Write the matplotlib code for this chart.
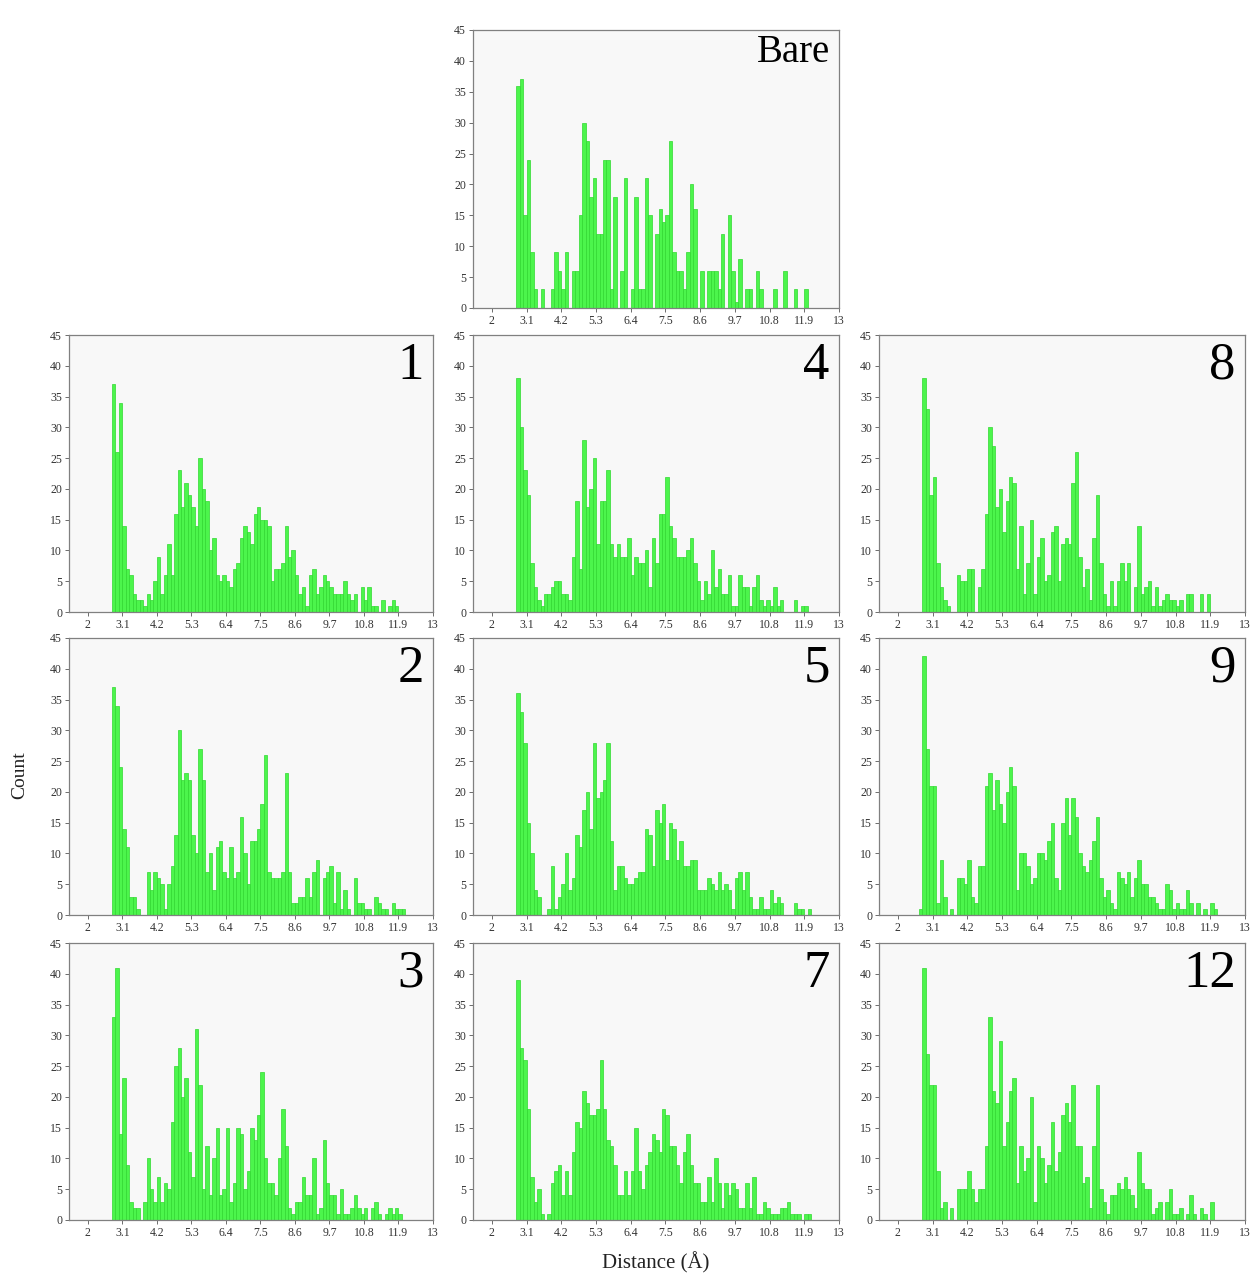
import numpy as np
import matplotlib
matplotlib.use("Agg")
import matplotlib.pyplot as plt

# ---- data: counts per 0.11 Å bin, first bin starts at 2.66 Å ----
bin_start = 2.66
bin_width = 0.11

counts_bare = [0, 36, 37, 15,
               24, 9, 3, 0, 3, 0, 0, 3, 9, 6,
               3, 9, 0, 6, 6, 15, 30, 27, 18, 21,
               12, 12, 24, 24, 3, 18, 0, 6, 21, 0,
               3, 18, 3, 3, 21, 15, 0, 12, 16, 14,
               15, 27, 9, 6, 6, 3, 9, 20, 16, 0,
               6, 0, 6, 6, 6, 3, 12, 0, 15, 6,
               1, 8, 0, 3, 3, 0, 6, 3, 0, 0,
               0, 3, 0, 0, 6, 0, 0, 3, 0, 0,
               3]
counts_1 = [0, 37, 26, 34,
            14, 7, 6, 3, 2, 2, 1, 3, 2, 5,
            9, 3, 6, 11, 6, 16, 23, 17, 21, 19,
            17, 14, 25, 20, 18, 10, 12, 6, 5, 6,
            5, 4, 7, 8, 12, 14, 13, 11, 16, 17,
            15, 15, 14, 5, 7, 7, 8, 14, 9, 10,
            6, 3, 4, 1, 6, 7, 3, 4, 6, 5,
            4, 3, 3, 3, 5, 3, 2, 3, 0, 4,
            2, 4, 1, 1, 0, 2, 0, 1, 2, 1]
counts_4 = [0, 38, 30, 23,
            19, 8, 4, 2, 1, 3, 3, 4, 5, 5,
            3, 3, 2, 9, 18, 7, 28, 17, 20, 25,
            11, 18, 18, 23, 11, 9, 11, 9, 9, 12,
            6, 9, 8, 8, 10, 4, 12, 8, 16, 16,
            22, 14, 12, 9, 9, 9, 10, 12, 8, 5,
            2, 5, 3, 10, 4, 7, 3, 3, 6, 1,
            1, 6, 4, 4, 1, 4, 6, 2, 1, 2,
            1, 4, 1, 2, 0, 0, 0, 2, 0, 1,
            1]
counts_8 = [0, 38, 33, 19,
            22, 8, 4, 2, 1, 0, 0, 6, 5, 5,
            7, 7, 0, 4, 7, 16, 30, 27, 17, 20,
            13, 18, 22, 21, 7, 14, 3, 8, 15, 3,
            9, 12, 5, 6, 13, 14, 5, 11, 12, 11,
            21, 26, 9, 4, 7, 2, 12, 19, 8, 3,
            1, 5, 1, 5, 8, 5, 8, 0, 4, 14,
            3, 4, 5, 1, 4, 1, 2, 3, 2, 2,
            1, 2, 0, 3, 3, 0, 0, 3, 0, 3]
counts_2 = [0, 37, 34, 24,
            14, 11, 3, 3, 1, 0, 0, 7, 4, 7,
            6, 5, 1, 5, 8, 13, 30, 22, 23, 22,
            13, 10, 27, 22, 7, 10, 4, 11, 12, 7,
            6, 11, 6, 7, 16, 10, 5, 12, 12, 14,
            18, 26, 7, 6, 6, 6, 7, 23, 7, 2,
            2, 3, 3, 6, 3, 7, 9, 0, 6, 7,
            8, 2, 7, 1, 4, 1, 0, 6, 2, 2,
            1, 1, 0, 3, 2, 1, 1, 0, 2, 1,
            1, 1]
counts_5 = [0, 36, 33, 28,
            15, 10, 4, 3, 0, 0, 1, 8, 1, 3,
            5, 10, 4, 6, 13, 11, 17, 20, 14, 28,
            19, 20, 22, 28, 12, 4, 8, 8, 6, 5,
            5, 6, 7, 7, 14, 13, 8, 17, 15, 18,
            9, 15, 14, 9, 12, 8, 8, 9, 9, 4,
            4, 4, 6, 5, 4, 7, 4, 5, 4, 1,
            6, 7, 4, 7, 3, 1, 1, 3, 1, 1,
            4, 2, 3, 2, 0, 0, 0, 2, 1, 1,
            0, 1]
counts_9 = [1, 42, 27, 21,
            21, 2, 9, 3, 0, 1, 0, 6, 6, 5,
            9, 3, 2, 8, 8, 21, 23, 17, 22, 18,
            15, 20, 24, 21, 4, 10, 10, 8, 5, 6,
            10, 10, 9, 12, 15, 6, 4, 15, 19, 13,
            19, 16, 10, 8, 7, 9, 12, 16, 6, 3,
            4, 2, 1, 7, 6, 5, 7, 3, 6, 9,
            5, 5, 3, 3, 2, 1, 1, 5, 4, 1,
            2, 1, 1, 4, 2, 0, 2, 0, 1, 0,
            2, 1]
counts_3 = [0, 33, 41, 14,
            23, 9, 3, 2, 2, 0, 3, 10, 5, 3,
            7, 3, 6, 5, 16, 25, 28, 20, 23, 11,
            7, 31, 22, 5, 12, 4, 10, 15, 4, 5,
            15, 3, 6, 15, 14, 5, 8, 15, 13, 17,
            24, 10, 6, 6, 4, 10, 18, 12, 2, 1,
            3, 3, 7, 4, 4, 10, 1, 2, 13, 6,
            4, 4, 1, 5, 1, 1, 2, 4, 2, 1,
            2, 0, 2, 3, 1, 0, 1, 2, 1, 2,
            1]
counts_7 = [0, 39, 28, 26,
            18, 7, 3, 5, 1, 0, 1, 6, 8, 9,
            4, 8, 4, 11, 16, 15, 21, 19, 17, 17,
            18, 26, 18, 13, 12, 9, 4, 4, 8, 4,
            8, 15, 8, 5, 9, 11, 14, 13, 11, 18,
            17, 12, 12, 9, 6, 11, 14, 9, 6, 6,
            3, 3, 7, 3, 10, 6, 2, 6, 4, 6,
            5, 2, 2, 6, 2, 7, 1, 1, 3, 2,
            1, 1, 1, 2, 2, 3, 1, 1, 1, 0,
            1, 1]
counts_12 = [0, 41, 27, 22,
             22, 8, 2, 3, 0, 2, 0, 5, 5, 5,
             8, 5, 3, 5, 5, 12, 33, 21, 19, 29,
             12, 16, 21, 23, 6, 12, 8, 10, 20, 3,
             12, 10, 6, 9, 16, 8, 11, 17, 19, 16,
             22, 12, 12, 6, 7, 2, 12, 22, 5, 3,
             1, 4, 4, 6, 5, 7, 5, 4, 2, 11,
             6, 5, 5, 1, 2, 3, 0, 3, 5, 1,
             1, 2, 0, 1, 4, 1, 0, 2, 1, 0,
             3]

panel_labels = ["Bare", "1", "4", "8", "2", "5", "9", "3", "7", "12"]
panel_counts = [counts_bare, counts_1, counts_4, counts_8, counts_2,
                counts_5, counts_9, counts_3, counts_7, counts_12]
x_ticks = [2, 3.1, 4.2, 5.3, 6.4, 7.5, 8.6, 9.7, 10.8, 11.9, 13]
x_tick_labels = ["2", "3.1", "4.2", "5.3", "6.4", "7.5", "8.6", "9.7", "10.8", "11.9", "13"]
y_ticks = [0, 5, 10, 15, 20, 25, 30, 35, 40, 45]

# ---- layout (pixels) ----
W, H = 1254, 1277
cols = [(69, 433), (473, 839), (879, 1245)]
rows = [(30, 308), (335, 612), (638, 915), (943, 1220)]
# (row, col) for each panel
grid = [(0, 1), (1, 0), (1, 1), (1, 2), (2, 0), (2, 1), (2, 2), (3, 0), (3, 1), (3, 2)]

serif = ["Liberation Serif", "DejaVu Serif"]
plt.rcParams["font.family"] = serif

fig = plt.figure(figsize=(W / 100, H / 100), dpi=100)
fig.patch.set_facecolor("white")

for label, counts, (r, c) in zip(panel_labels, panel_counts, grid):
    x0, x1 = cols[c]
    y0, y1 = rows[r]
    ax = fig.add_axes([x0 / W, 1 - y1 / H, (x1 - x0) / W, (y1 - y0) / H])
    ax.set_facecolor("#f8f8f8")
    lefts = bin_start + bin_width * np.arange(len(counts))
    ax.bar(lefts, counts, width=bin_width, align="edge",
           color="#4cf54c", edgecolor="#30d830", linewidth=0.5)
    ax.set_xlim(1.4, 13.0)
    ax.set_ylim(0, 45)
    ax.set_xticks(x_ticks)
    ax.set_xticklabels(x_tick_labels)
    ax.set_yticks(y_ticks)
    ax.tick_params(axis="both", direction="out", length=3, width=0.6,
                   color="#555555", labelsize=8.5, labelcolor="#333333", pad=2)
    for sp in ax.spines.values():
        sp.set_color("#808080")
        sp.set_linewidth(0.9)
    fs = 28 if label == "Bare" else 38
    ax.text(0.975, 0.985 if label == "Bare" else 0.975, label,
            transform=ax.transAxes, ha="right", va="top",
            fontsize=fs, color="black")

fig.text(20 / W, 1 - 775 / H, "Count", rotation=90, ha="center", va="center",
         fontsize=14, color="#222222")
fig.text(656 / W, 1 - 1263 / H, "Distance (Å)", ha="center", va="center",
         fontsize=15, color="#222222")

fig.savefig("out.png", dpi=100, facecolor="white")
